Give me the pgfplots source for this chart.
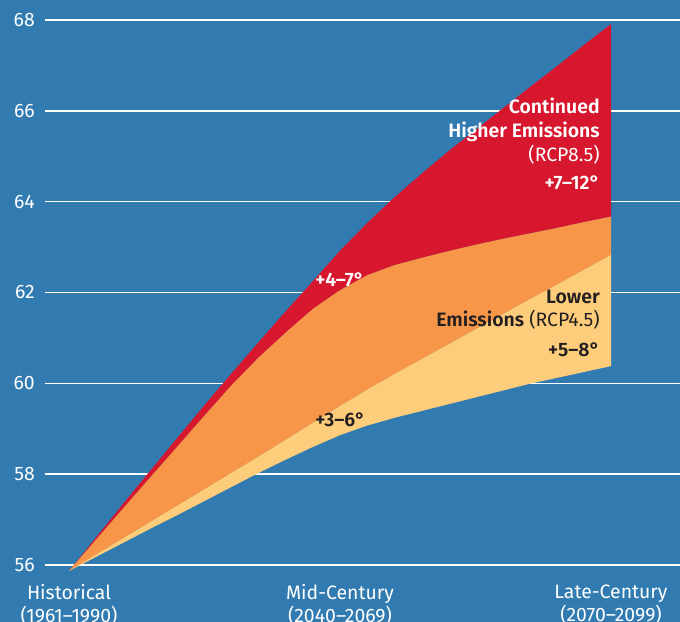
\documentclass[border=0pt]{standalone}
\usepackage{fontspec}
\setmainfont{Fira Sans}[BoldFont={Fira Sans SemiBold}]
\usepackage{pgfplots}
\pgfplotsset{compat=1.18}
\usepackage{pgfplotstable}
\usepgfplotslibrary{fillbetween}

\definecolor{bgblue}{RGB}{49,123,177}
\definecolor{cred}{RGB}{214,23,46}
\definecolor{corange}{RGB}{247,150,73}
\definecolor{cyellow}{RGB}{254,205,123}
\definecolor{darktext}{RGB}{35,31,32}

\newcommand{\lbl}{\fontsize{19.5}{23.5}\selectfont}

% x: 0 = Historical, 1 = Mid-Century, 2 = Late-Century
% rt: RCP8.5 upper edge, ot: red/orange edge, yt: orange/yellow edge, yb: lower edge
\pgfplotstableread{
x    rt     ot     yt     yb
0.0  55.87  55.87  55.87  55.87
0.1  56.61  56.56  56.23  56.18
0.2  57.35  57.25  56.59  56.49
0.3  58.08  57.93  56.95  56.80
0.4  58.80  58.61  57.31  57.10
0.5  59.52  59.29  57.67  57.41
0.6  60.22  59.96  58.03  57.72
0.7  60.91  60.57  58.39  58.03
0.8  61.59  61.12  58.76  58.32
0.9  62.25  61.64  59.13  58.60
1.0  62.92  62.05  59.50  58.86
1.1  63.53  62.38  59.86  59.07
1.2  64.09  62.60  60.20  59.24
1.3  64.61  62.76  60.53  59.39
1.4  65.11  62.91  60.86  59.54
1.5  65.58  63.05  61.19  59.69
1.6  66.05  63.18  61.52  59.84
1.7  66.52  63.30  61.85  59.99
1.8  66.98  63.42  62.17  60.12
1.9  67.45  63.55  62.50  60.25
2.0  67.91  63.67  62.83  60.38
}\bands

\begin{document}
\begin{tikzpicture}
\begin{axis}[
    at={(45bp,38.8bp)}, anchor=south west,
    scale only axis,
    width=635bp, height=581.4bp,
    xmin=-0.0886, xmax=2.2546,
    ymin=55.6, ymax=68.4,
    axis line style={draw=none},
    major tick length=0pt,
    xtick={0,1,2},
    xticklabels={{Historical\\(1961–1990)},{Mid-Century\\(2040–2069)},{Late-Century\\(2070–2099)}},
    xticklabel style={align=center, text=white, font=\lbl, inner sep=0pt, anchor=north, yshift=-1bp},
    ytick={56,58,...,68},
    yticklabel style={text=white, font=\lbl, inner sep=0pt, anchor=east, xshift=-10bp},
    /pgf/number format/assume math mode=true,
    ymajorgrids,
    grid style={white, line width=1.6bp},
    clip=false,
  ]
  \begin{pgfonlayer}{axis background}
    \fill[bgblue] ([xshift=-45bp,yshift=-38.8bp]rel axis cs:0,0) rectangle ([yshift=1.8bp]rel axis cs:1,1);
  \end{pgfonlayer}
  \addplot[name path=rt, draw=none] table[x=x, y=rt] {\bands};
  \addplot[name path=ot, draw=none] table[x=x, y=ot] {\bands};
  \addplot[name path=yt, draw=none] table[x=x, y=yt] {\bands};
  \addplot[name path=yb, draw=none] table[x=x, y=yb] {\bands};
  \addplot[fill=cred, draw=none] fill between[of=rt and ot];
  \addplot[fill=corange, draw=none] fill between[of=ot and yt];
  \addplot[fill=cyellow, draw=none] fill between[of=yt and yb];

  \node[anchor=base east, inner sep=0pt, text=white, font=\lbl\bfseries] at (axis cs:1.959,65.93) {Continued};
  \node[anchor=base east, inner sep=0pt, text=white, font=\lbl\bfseries] at (axis cs:1.959,65.417) {Higher Emissions};
  \node[anchor=base east, inner sep=0pt, text=white, font=\lbl] at (axis cs:1.959,64.88) {(RCP8.5)};
  \node[anchor=base east, inner sep=0pt, text=white, font=\lbl\bfseries] at (axis cs:1.959,64.257) {+7–12°};

  \node[anchor=base east, inner sep=0pt, text=darktext, font=\lbl\bfseries] at (axis cs:1.959,61.762) {Lower};
  \node[anchor=base east, inner sep=0pt, text=darktext, font=\lbl] at (axis cs:1.959,61.247) {\textbf{Emissions} (RCP4.5)};
  \node[anchor=base east, inner sep=0pt, text=darktext, font=\lbl\bfseries] at (axis cs:1.959,60.586) {+5–8°};

  \node[anchor=base west, inner sep=0pt, text=white, font=\lbl\bfseries] at (axis cs:0.908,62.143) {+4–7°};
  \node[anchor=base west, inner sep=0pt, text=darktext, font=\lbl\bfseries] at (axis cs:0.908,59.06) {+3–6°};
\end{axis}
\pgfresetboundingbox
\useasboundingbox (0,0) rectangle (680bp,622bp);
\end{tikzpicture}
\end{document}
